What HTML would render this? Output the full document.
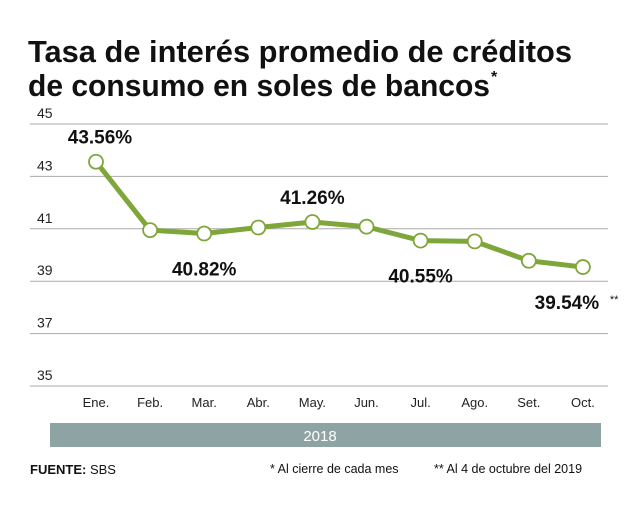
<!DOCTYPE html>
<html><head><meta charset="utf-8"><style>
body{margin:0;background:#fff;width:638px;height:502px;overflow:hidden;font-family:"Liberation Sans",sans-serif}
</style></head><body>
<svg width="638" height="502" id="svg" xmlns="http://www.w3.org/2000/svg">
<text x="28" y="62" font-size="31" font-weight="bold" fill="#111" textLength="544" lengthAdjust="spacingAndGlyphs">Tasa de interés  promedio de créditos</text>
<text x="28" y="96" font-size="31" font-weight="bold" fill="#111" textLength="462" lengthAdjust="spacingAndGlyphs">de consumo en soles de bancos</text>
<text x="491" y="82" font-size="16" font-weight="bold" fill="#111">*</text>
<g id="grid"></g><g id="xl"></g><g id="line"></g>
<rect x="50" y="423" width="551" height="24" fill="#8ea4a4"/>
<text x="320" y="441" font-size="15" fill="#fff" text-anchor="middle">2018</text>
<text x="30" y="474" font-size="13" font-weight="bold" fill="#111">FUENTE: <tspan font-weight="normal">SBS</tspan></text>
<text x="270" y="473" font-size="12.5" fill="#111">* Al cierre de cada mes</text>
<text x="434" y="473" font-size="12.5" fill="#111">** Al 4 de octubre del 2019</text>
</svg>
<script>
const categories=["Ene.","Feb.","Mar.","Abr.","May.","Jun.","Jul.","Ago.","Set.","Oct."];
const values=[43.56,40.95,40.82,41.05,41.26,41.08,40.55,40.52,39.78,39.54];
const ticks=[45,43,41,39,37,35];
const labeled=[0,2,4,6,9];
const ns="http://www.w3.org/2000/svg";
const y=v=>124+(45-v)*26.2;
const x=i=>96+i*54.1;
function mk(t,a,p,txt){const e=document.createElementNS(ns,t);for(const k in a)e.setAttribute(k,a[k]);if(txt!=null)e.textContent=txt;p.appendChild(e);return e;}
const g=document.getElementById('grid'),xl=document.getElementById('xl'),ln=document.getElementById('line');
ticks.forEach(t=>{
 const l=mk('line',{x1:30,x2:608,y1:y(t),y2:y(t),stroke:'#aaa','stroke-width':1},g);
 
 
 const tx=mk('text',{x:37,y:y(t)-6,'font-size':14,fill:'#222'},g,t);
 
 
});
categories.forEach((c,i)=>{
 const t=mk('text',{x:x(i),y:407,'font-size':13,fill:'#222','text-anchor':'middle'},xl,c);
 
 
});
const p=mk('polyline',{points:values.map((v,i)=>x(i)+','+y(v)).join(' '),fill:'none',stroke:'#7fa63a','stroke-width':5,'stroke-linejoin':'round'},ln);


values.forEach((v,i)=>{
 const c=mk('circle',{cx:x(i),cy:y(v),r:7,fill:'#fff',stroke:'#7fa63a','stroke-width':1.8},ln);
 
 
});
labeled.forEach(i=>{
 const above=(i===0||i===4);
 const yy=above?y(values[i])-18:y(values[i])+42;
 const xx=i===9?x(i)-16:x(i)+(i===0?4:0);
 const t=mk('text',{x:xx,y:yy,'font-size':19,'font-weight':'bold',fill:'#111','text-anchor':'middle'},ln,values[i].toFixed(2)+'%');
 
 
 if(i===9){const s=mk('text',{x:xx+43,y:yy-6,'font-size':11,fill:'#111'},ln,'**');
 
 }
});
</script>
</body></html>
